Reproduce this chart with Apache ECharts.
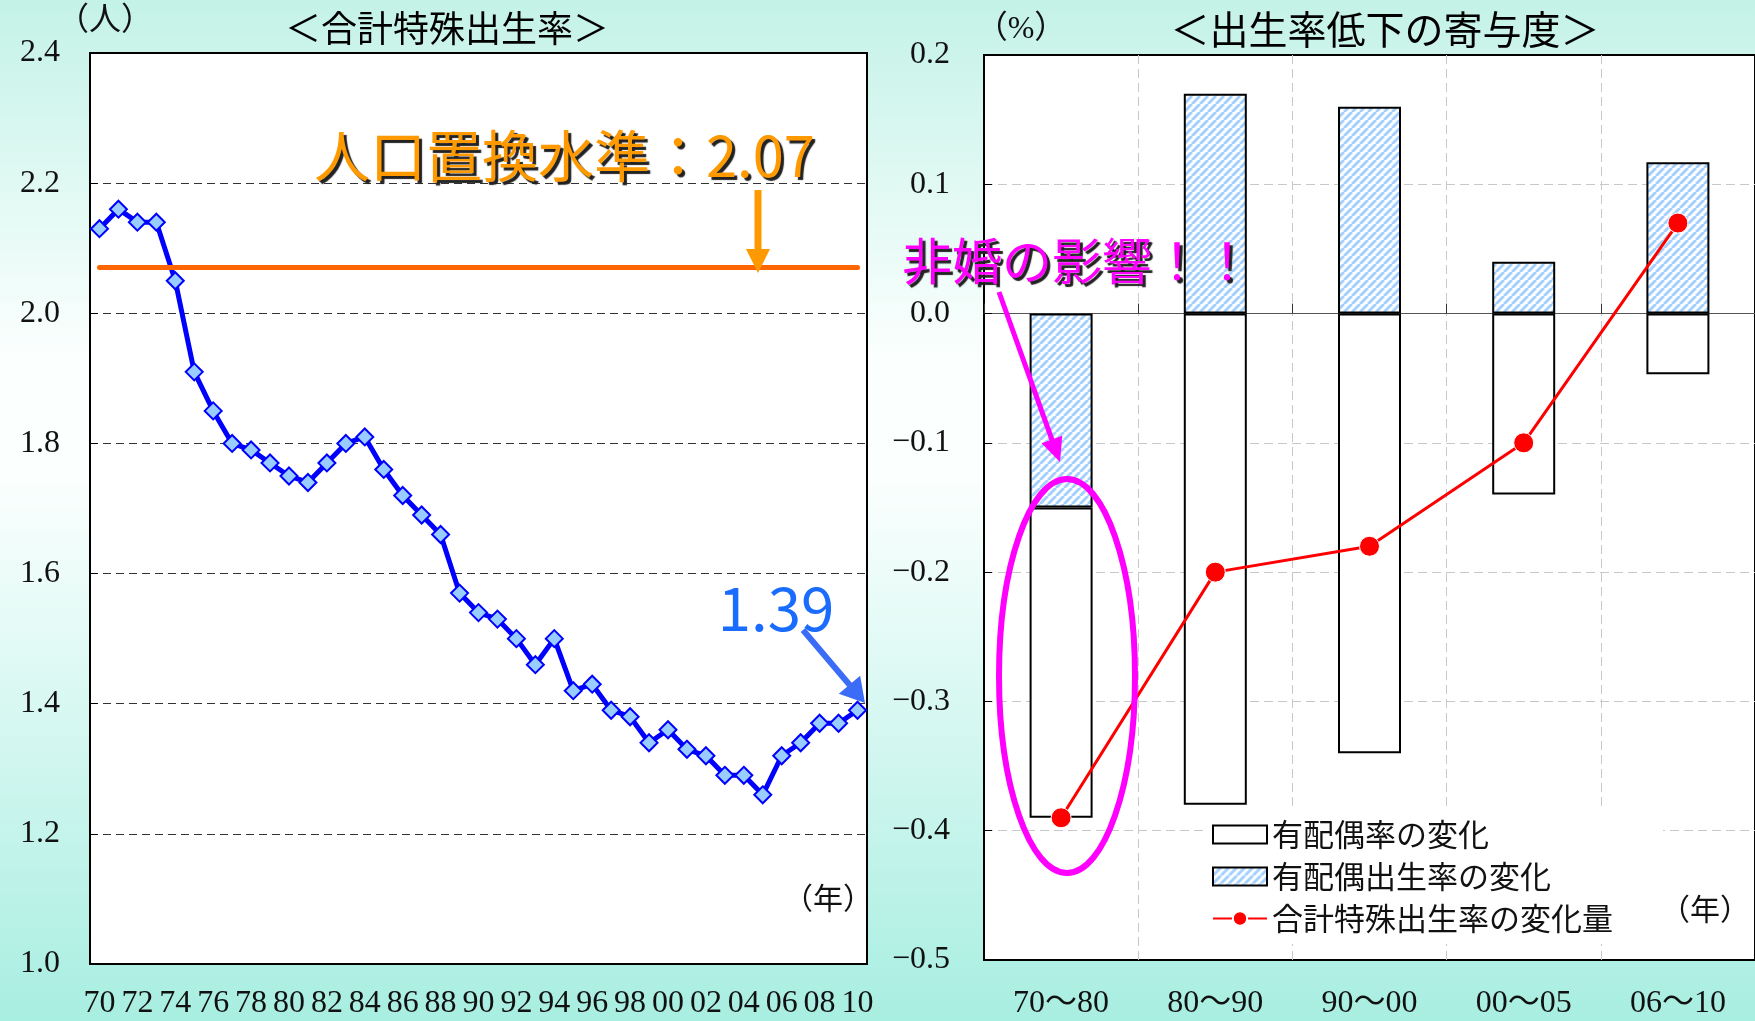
<!DOCTYPE html>
<html>
<head>
<meta charset="utf-8" />
<title>合計特殊出生率と出生率低下の寄与度</title>
<script src="https://cdn.jsdelivr.net/npm/echarts@6/dist/echarts.min.js"></script>
<style>
  body { margin: 0; }
  #main {
    width: 1755px;
    height: 1021px;
    background: linear-gradient(to bottom, #c4f2e7 0%, #fbfffe 35%, #fbfffe 47%, #a8eee1 100%);
  }
</style>
</head>
<body>
<div id="main"></div>
<script type="text/javascript">
// left: 合計特殊出生率 1970-2010
var years = ['1970','1971','1972','1973','1974','1975','1976','1977','1978','1979',
             '1980','1981','1982','1983','1984','1985','1986','1987','1988','1989',
             '1990','1991','1992','1993','1994','1995','1996','1997','1998','1999',
             '2000','2001','2002','2003','2004','2005','2006','2007','2008','2009','2010'];
var tfr = [2.13, 2.16, 2.14, 2.14, 2.05, 1.91, 1.85, 1.80, 1.79, 1.77,
           1.75, 1.74, 1.77, 1.80, 1.81, 1.76, 1.72, 1.69, 1.66, 1.57,
           1.54, 1.53, 1.50, 1.46, 1.50, 1.42, 1.43, 1.39, 1.38, 1.34,
           1.36, 1.33, 1.32, 1.29, 1.29, 1.26, 1.32, 1.34, 1.37, 1.37, 1.39];
var replacementLevel = 2.07;

// right: 出生率低下の寄与度
var periods = ['70～80', '80～90', '90～00', '00～05', '06～10'];
var marriedRateChange = [-0.24, -0.38, -0.34, -0.14, -0.047];
var maritalFertilityChange = [-0.15, 0.17, 0.16, 0.04, 0.117];
var tfrChange = [-0.39, -0.20, -0.18, -0.10, 0.07];

var serif = "'Liberation Serif', 'Noto Sans CJK JP', serif";
var gothic = "'Noto Sans CJK JP', sans-serif";

// hatch pattern for 有配偶出生率
var hatch = document.createElement('canvas');
hatch.width = 8; hatch.height = 8;
var hc = hatch.getContext('2d');
hc.fillStyle = '#ffffff';
hc.fillRect(0, 0, 8, 8);
hc.strokeStyle = '#a3d0ff';
hc.lineWidth = 3;
hc.beginPath();
for (var k = -8; k <= 8; k += 8) { hc.moveTo(k, 8); hc.lineTo(k + 8, 0); }
hc.stroke();

function arrow(x1, y1, x2, y2, color, w, headLen, headW) {
  var dx = x2 - x1, dy = y2 - y1;
  var len = Math.sqrt(dx * dx + dy * dy);
  var ux = dx / len, uy = dy / len;
  var bx = x2 - ux * headLen, by = y2 - uy * headLen;
  return [
    { type: 'line', z: 100, shape: { x1: x1, y1: y1, x2: bx + ux * 2, y2: by + uy * 2 },
      style: { stroke: color, lineWidth: w } },
    { type: 'polygon', z: 100,
      shape: { points: [[x2, y2], [bx - uy * headW / 2, by + ux * headW / 2], [bx + uy * headW / 2, by - ux * headW / 2]] },
      style: { fill: color } }
  ];
}

function label(text, x, y, font, color, extra) {
  var st = { text: text, x: x, y: y, font: font, fill: color, align: 'center', verticalAlign: 'middle' };
  for (var key in extra) st[key] = extra[key];
  return { type: 'text', z: 100, style: st };
}

var shadow = { textShadowColor: '#222', textShadowBlur: 1, textShadowOffsetX: 3, textShadowOffsetY: 3 };
var fmt1 = function (v) { return v.toFixed(1).replace('-', '−'); };

var graphics = [
  label('＜合計特殊出生率＞', 447, 28, 'normal 36px ' + gothic, '#000'),
  label('＜出生率低下の寄与度＞', 1385, 29, 'normal 39px ' + gothic, '#000'),
  label('（人）', 105, 22, 'normal 32px ' + serif, '#111'),
  label('（%）', 1021, 30, 'normal 32px ' + serif, '#111'),
  label('（年）', 828, 901, 'normal 30px ' + serif, '#111'),
  label('（年）', 1705, 912, 'normal 30px ' + serif, '#111'),
  label('人口置換水準：2.07', 314, 156, 'normal 56px ' + gothic, '#ff9900',
        Object.assign({ align: 'left' }, shadow)),
  label('1.39', 776, 608, 'normal 60px ' + gothic, '#1a6cff'),
  label('非婚の影響！！', 1077, 261, 'normal 50px ' + gothic, '#ff00ff', shadow),
  { type: 'ellipse', z: 100, shape: { cx: 1067, cy: 676, rx: 68, ry: 197 },
    style: { fill: 'none', stroke: '#ff00ff', lineWidth: 6 } }
].concat(arrow(758, 190, 758, 273, '#ff9900', 7, 24, 24))
 .concat(arrow(803, 630, 865, 703, '#3b6cf7', 6, 24, 28))
 .concat(arrow(999, 292, 1060, 462, '#ff00ff', 5, 24, 22));

var chart = echarts.init(document.getElementById('main'));
var option = {
  animation: false,
  backgroundColor: 'transparent',
  grid: [
    { left: 90, top: 53, width: 777, height: 911, show: true, backgroundColor: '#fff', borderColor: '#000', borderWidth: 2 },
    { left: 984, top: 55, width: 778, height: 905, show: true, backgroundColor: '#fff', borderColor: '#000', borderWidth: 2 }
  ],
  xAxis: [
    {
      type: 'category', gridIndex: 0, data: years, boundaryGap: true,
      axisLine: { lineStyle: { color: '#000', width: 2 } },
      axisTick: { inside: true, length: 10, interval: 0, lineStyle: { color: '#000' } },
      axisLabel: { interval: 1, margin: 24, fontSize: 32, fontFamily: serif, color: '#111',
                   formatter: function (v) { return v.slice(2); } },
      splitLine: { show: false }
    },
    {
      type: 'category', gridIndex: 1, data: periods, position: 'bottom', boundaryGap: true,
      axisLine: { show: false, onZero: false },
      axisTick: { show: false },
      axisLabel: { margin: 28, fontSize: 32, fontFamily: serif, color: '#111' },
      splitLine: { show: true, interval: 0, showMinLine: false, showMaxLine: false,
                   lineStyle: { color: '#c8c8c8', type: [9, 5] } }
    },
    {
      type: 'category', gridIndex: 1, data: periods, position: 'top', boundaryGap: true,
      axisLine: { show: true, onZero: true, lineStyle: { color: '#555', width: 1 } },
      axisTick: { show: true, inside: false, length: 10, interval: 0, lineStyle: { color: '#333' } },
      axisLabel: { show: false },
      splitLine: { show: false }
    }
  ],
  yAxis: [
    {
      type: 'value', gridIndex: 0, min: 1.0, max: 2.4, interval: 0.2,
      axisLine: { show: true, lineStyle: { color: '#000', width: 2 } },
      axisTick: { show: true, inside: true, length: 8, lineStyle: { color: '#000' } },
      axisLabel: { margin: 30, fontSize: 32, fontFamily: serif, color: '#111', formatter: fmt1 },
      splitLine: { showMinLine: false, showMaxLine: false, lineStyle: { color: '#333', type: [8, 5] } }
    },
    {
      type: 'value', gridIndex: 1, min: -0.5, max: 0.2, interval: 0.1,
      axisLine: { show: true, lineStyle: { color: '#000', width: 2 } },
      axisTick: { show: true, inside: true, length: 8, lineStyle: { color: '#000' } },
      axisLabel: { margin: 34, fontSize: 32, fontFamily: serif, color: '#111', formatter: fmt1 },
      splitLine: { showMinLine: false, showMaxLine: false, lineStyle: { color: '#c8c8c8', type: [9, 5] } }
    }
  ],
  legend: {
    orient: 'vertical', left: 1204, top: 809,
    itemWidth: 54, itemHeight: 18, itemGap: 11,
    backgroundColor: '#fff',
    padding: [10, 50, 10, 8],
    textStyle: { fontFamily: gothic, fontSize: 31, color: '#111' },
    data: [
      { name: '有配偶率の変化', icon: 'rect' },
      { name: '有配偶出生率の変化', icon: 'rect' },
      { name: '合計特殊出生率の変化量' }
    ]
  },
  series: [
    {
      name: '合計特殊出生率', type: 'line', xAxisIndex: 0, yAxisIndex: 0,
      data: tfr,
      symbol: 'diamond', symbolSize: 17, showAllSymbol: true,
      lineStyle: { color: '#0000ff', width: 5 },
      itemStyle: { color: '#99ccff', borderColor: '#0000ff', borderWidth: 2 },
      markLine: {
        silent: true, symbol: ['none', 'none'],
        label: { show: false },
        lineStyle: { color: '#ff6600', width: 5, type: 'solid', cap: 'round' },
        data: [[{ coord: ['1970', replacementLevel] }, { coord: ['2010', replacementLevel] }]]
      },
      z: 3
    },
    {
      name: '有配偶出生率の変化', type: 'bar', xAxisIndex: 1, yAxisIndex: 1,
      stack: 'contrib', barWidth: 63,
      data: maritalFertilityChange,
      itemStyle: { color: { image: hatch, repeat: 'repeat' }, borderColor: '#000', borderWidth: 2 }
    },
    {
      name: '有配偶率の変化', type: 'bar', xAxisIndex: 1, yAxisIndex: 1,
      stack: 'contrib', barWidth: 63,
      data: marriedRateChange,
      itemStyle: { color: '#fff', borderColor: '#000', borderWidth: 2 }
    },
    {
      name: '合計特殊出生率の変化量', type: 'line', xAxisIndex: 1, yAxisIndex: 1,
      data: tfrChange,
      symbol: 'circle', symbolSize: 20,
      lineStyle: { color: '#ff0000', width: 3 },
      itemStyle: { color: '#ff0000', borderColor: '#fff', borderWidth: 1 },
      z: 5
    }
  ],
  graphic: graphics
};
chart.setOption(option);
</script>
</body>
</html>
